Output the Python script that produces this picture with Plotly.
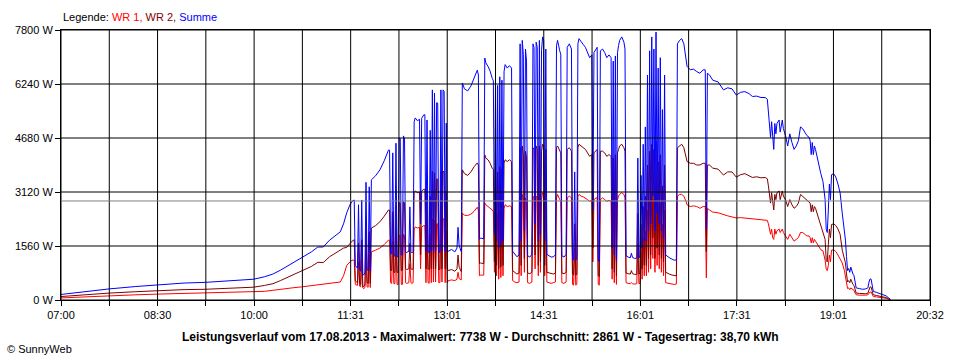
import plotly.graph_objects as go

# ---- data (minutes after 07:00, watts) ----
t_min = [
    0, 20, 45, 70, 90, 115, 135, 160, 180, 190, 198, 205, 210, 216, 225, 234, 240, 245, 251, 256, 261, 264, 267, 270, 272, 274,
    275, 277, 278, 279, 280, 281, 282, 283, 284, 285, 286, 287, 288, 289, 290,
    294, 298, 302, 306, 307,
    308, 309, 310, 311, 312, 313, 314, 315, 316, 317, 318, 319, 320, 321, 322, 323, 324, 325, 326, 327, 328, 329,
    330, 331, 333, 335, 336, 337, 339, 340,
    341, 342, 343, 344, 345, 346, 347, 348, 349, 350, 351, 352, 353, 354, 355, 356, 357, 358, 359, 360, 361,
    362, 365, 368, 370, 371, 372, 374, 375,
    377, 380, 383, 386, 389, 390, 391, 392, 395, 396, 397, 399, 401, 403, 404,
    405, 406, 407, 408, 409, 410, 411, 412, 413, 414, 415, 417, 419, 421,
    422, 424, 426, 428, 429, 430, 431, 432, 433, 434, 435, 436, 438, 440,
    441, 442, 443, 444, 445, 446, 447, 448, 449, 450, 451, 452, 453,
    454, 456, 458, 460, 462, 463, 464, 466, 467, 468, 470, 472, 473, 475, 477,
    478, 479, 480, 481, 482, 483, 484, 486, 488, 490, 492, 494, 496, 497, 498, 500, 501, 502, 503,
    504, 506, 508, 510, 512, 514, 515, 516, 517, 518, 519, 520, 521, 522, 524, 526, 527,
    528, 530, 532, 533, 534, 536, 538, 539, 540, 541, 542, 543, 544, 545, 546, 547,
    548, 549, 550, 551, 552, 553, 554, 555, 556, 557, 558, 559, 560, 561, 562, 563, 564,
    565, 567, 569, 571, 573, 575, 576, 578, 580, 582, 584, 585, 588, 591, 594, 597, 600, 602, 603,
    604, 606, 609, 614, 619, 623, 627, 631, 635, 639, 643, 646, 650, 654, 658, 660,
    661, 662, 663, 664, 665, 666, 667, 668, 669, 671, 672, 674, 675,
    677, 679, 681, 683, 685, 687, 689, 691, 693, 695, 697, 699,
    700, 701, 702, 703, 704, 705, 706, 708, 710, 712, 713, 714, 715, 716, 717, 718, 719, 720,
    722, 724, 726, 728, 730, 732, 733, 734, 735, 736, 737, 738, 739, 740, 741, 742,
    743, 746, 749, 752, 754, 755, 756, 757, 758, 759, 762, 765, 768, 771, 773, 775,
]
wr1 = [
    60, 90, 120, 150, 170, 190, 200, 215, 230, 250, 280, 300, 320, 350, 380, 420, 440, 450, 480, 500, 520, 700, 1000, 1100, 1150, 1150,
    450, 420, 1100, 400, 380, 1150, 350, 330, 360, 1350, 380, 370, 1300, 360, 1390,
    1440, 1500, 1600, 1730, 1730,
    500, 480, 1700, 470, 470, 1800, 450, 450, 1870, 1870, 450, 450, 1900, 1850, 500, 480, 500, 500, 1050, 500, 480, 500,
    2050, 2110, 2080, 2100, 900, 2100, 2150, 2150,
    500, 2050, 500, 480, 1900, 500, 2350, 520, 2300, 520, 2200, 2200, 500, 500, 2350, 520, 2350, 2330, 500, 2000, 500,
    560, 580, 560, 600, 800, 620, 580, 2510,
    2450, 2440, 2480, 2560, 2680, 2600, 700, 720, 720, 2800, 2750, 2700, 2660, 2600, 2550,
    800, 2600, 700, 2500, 600, 2600, 650, 2550, 700, 2650, 2750, 2700, 2720, 2700,
    560, 520, 500, 520, 3000, 700, 3050, 2900, 800, 2950, 2800, 500, 480, 520,
    3000, 2950, 900, 3000, 2950, 700, 3050, 800, 2900, 3100, 3050, 700, 2900,
    520, 500, 480, 500, 520, 2950, 3050, 2900, 2850, 500, 480, 520, 2950, 3000, 2950,
    450, 430, 1500, 430, 450, 3000, 3050, 3000, 2980, 2950, 2900, 2850, 2880, 1100, 2900, 2950, 2950, 450, 430,
    2900, 2950, 2900, 2850, 2880, 2850, 600, 2800, 500, 2850, 450, 2900, 3000, 3050, 3100, 3050, 2950,
    500, 480, 470, 500, 470, 460, 470, 1600, 470, 480, 1400, 600, 1800, 700, 2000, 700,
    2600, 800, 2900, 900, 3100, 1200, 2900, 800, 3150, 1000, 2700, 900, 2800, 800, 2200, 700, 2600,
    500, 480, 470, 460, 450, 460, 3000, 3050, 3050, 3000, 2850, 2750, 2700, 2720, 2700, 2650, 2700, 2700, 640,
    2650, 2600, 2540, 2520, 2460, 2430, 2400, 2370, 2380, 2370, 2360, 2340, 2330, 2320, 2310, 2300,
    2200, 2050, 1900, 2050, 1800, 1750, 2050, 1900, 2000, 2050, 1950, 2050, 1950,
    1850, 1750, 1900, 1800, 1700, 1750, 1800, 1950, 1950, 1900, 1850, 1850,
    1800, 1650, 1800, 1650, 1750, 1700, 1650, 1550, 1450, 1420, 1300, 1150, 900, 850, 1000, 1300, 1100, 1440,
    1450, 1400, 1300, 1200, 1070, 850, 660, 500, 330, 350, 300, 350, 320, 300, 280, 200,
    150, 140, 130, 140, 150, 200, 230, 230, 150, 100, 90, 80, 70, 50, 30, 10,
]
wr2 = [
    100, 150, 200, 240, 270, 300, 310, 345, 370, 420, 470, 560, 630, 720, 860, 970, 1090, 1080, 1250, 1350, 1450, 1500, 1520, 1650, 1700, 1740,
    550, 500, 1650, 480, 450, 1740, 380, 400, 420, 2050, 500, 480, 1970, 480, 2080,
    2150, 2260, 2420, 2600, 2600,
    850, 850, 2550, 800, 800, 2730, 800, 800, 2810, 2800, 850, 850, 2840, 2800, 900, 880, 900, 900, 1640, 900, 880, 900,
    3100, 3150, 3100, 3120, 1300, 3150, 3200, 3200,
    900, 3150, 900, 880, 3000, 900, 3720, 900, 3680, 900, 3500, 3490, 880, 880, 3720, 900, 3720, 3700, 900, 3110, 900,
    850, 880, 830, 900, 1300, 950, 820, 3760,
    3650, 3600, 3700, 3850, 3960, 3900, 1050, 1070, 1050, 4190, 4100, 4050, 3950, 3800, 3780,
    1100, 3800, 1000, 3700, 900, 3850, 950, 3800, 1000, 3950, 4050, 4000, 4050, 4000,
    850, 800, 750, 780, 4400, 1000, 4450, 4200, 1200, 4300, 4100, 780, 760, 800,
    4400, 4350, 1300, 4450, 4350, 1000, 4450, 1100, 4300, 4500, 4450, 1000, 4350,
    800, 780, 760, 750, 780, 4400, 4450, 4300, 4250, 780, 760, 800, 4350, 4400, 4300,
    750, 720, 2200, 720, 740, 4400, 4500, 4450, 4400, 4350, 4250, 4150, 4200, 1500, 4250, 4300, 4350, 700, 680,
    4300, 4300, 4250, 4150, 4200, 4150, 900, 4100, 800, 4200, 700, 4250, 4350, 4450, 4500, 4400, 4300,
    780, 760, 750, 850, 760, 740, 740, 2500, 760, 760, 2200, 900, 2700, 1000, 3000, 1000,
    3900, 1200, 4300, 1300, 4500, 1800, 4350, 1200, 4590, 1500, 4000, 1300, 4200, 1200, 3300, 1100, 3900,
    800, 760, 740, 720, 700, 700, 4400, 4450, 4500, 4400, 4150, 4000, 3950, 3950, 3900, 3900, 3950, 3950, 1400,
    3900, 3900, 3810, 3780, 3610, 3700, 3700, 3550, 3620, 3650, 3600, 3540, 3560, 3530, 3540, 3500,
    3300, 3050, 2800, 3100, 2750, 2600, 3050, 2900, 3100, 3150, 2900, 3150, 3000,
    2900, 2700, 2900, 2750, 2650, 2700, 2800, 3050, 3000, 2950, 2900, 2850,
    2800, 2550, 2750, 2550, 2700, 2650, 2550, 2400, 2200, 2000, 1900, 1750, 1150, 1100, 1600, 2050, 1800, 2180,
    2200, 2150, 2050, 1900, 1440, 1200, 1070, 750, 520, 560, 500, 600, 500, 450, 420, 250,
    200, 190, 180, 180, 200, 320, 380, 370, 230, 150, 130, 110, 100, 70, 40, 10,
]
assert len(t_min) == len(wr1) == len(wr2)
summe = [a + b for a, b in zip(wr1, wr2)]

y_ticks = [0, 1560, 3120, 4680, 6240, 7800]
y_labels = [f"{v} W" for v in y_ticks]
x_labels = ["07:00", "08:30", "10:00", "11:31", "13:01", "14:31", "16:01", "17:31", "19:01", "20:32"]
span_min = 812          # 07:00 .. 20:32
n_div = 18
avg_w = 2861
caption = ("Leistungsverlauf vom 17.08.2013 - Maximalwert: 7738 W - "
           "Durchschnitt: 2861 W - Tagesertrag: 38,70 kWh")

x_tickvals = [i * span_min / n_div for i in range(n_div + 1)]
x_ticktext = [x_labels[i // 2] if i % 2 == 0 else "" for i in range(n_div + 1)]

FONT = "Liberation Sans, Arial, sans-serif"
RED, DARK, BLUE = "#FF0000", "#800000", "#0000FF"

fig = go.Figure()
fig.add_trace(go.Scatter(x=t_min, y=wr1, mode="lines", line=dict(color=RED, width=1), name="WR 1"))
fig.add_trace(go.Scatter(x=t_min, y=wr2, mode="lines", line=dict(color=DARK, width=1), name="WR 2"))
fig.add_trace(go.Scatter(x=t_min, y=summe, mode="lines", line=dict(color=BLUE, width=1), name="Summe"))

shapes = []
for xv in x_tickvals:
    shapes.append(dict(type="line", xref="x", yref="y", x0=xv, x1=xv, y0=0, y1=y_ticks[-1],
                       line=dict(color="black", width=1), layer="above"))
for yv in y_ticks:
    shapes.append(dict(type="line", xref="x", yref="y", x0=0, x1=span_min, y0=yv, y1=yv,
                       line=dict(color="black", width=1), layer="above"))
shapes.append(dict(type="line", xref="x", yref="y", x0=0, x1=span_min, y0=avg_w, y1=avg_w,
                   line=dict(color="#808080", width=1), layer="above"))

axis_common = dict(showgrid=False, zeroline=False, showline=True, linecolor="black", linewidth=1,
                   mirror=True, ticks="outside", ticklen=5, tickcolor="black", tickwidth=1,
                   automargin=False,
                   tickfont=dict(family=FONT, size=11, color="black"))

fig.update_layout(
    width=960, height=360,
    margin=dict(l=61, r=30, t=30, b=60, pad=0),
    paper_bgcolor="white", plot_bgcolor="white",
    showlegend=False,
    shapes=shapes,
    xaxis=dict(range=[0, span_min], tickmode="array", tickvals=x_tickvals, ticktext=x_ticktext, **axis_common),
    yaxis=dict(range=[0, y_ticks[-1]], tickmode="array", tickvals=y_ticks, ticktext=y_labels, **axis_common),
    annotations=[
        dict(xref="paper", yref="paper", x=0, y=(300 - 17) / 270, xanchor="left", yanchor="middle",
             showarrow=False, font=dict(family=FONT, size=11, color="black"),
             text=(f"Legende: <span style='color:{RED}'>WR 1,</span> "
                   f"<span style='color:{DARK}'>WR 2,</span> "
                   f"<span style='color:{BLUE}'>Summe</span>")),
        dict(xref="paper", yref="paper", x=(480 - 61) / 869, y=(300 - 337) / 270, xanchor="center",
             yanchor="middle", showarrow=False, font=dict(family=FONT, size=12, color="black"),
             text=f"<b>{caption}</b>"),
        dict(xref="paper", yref="paper", x=(5 - 61) / 869, y=(300 - 349) / 270, xanchor="left",
             yanchor="middle", showarrow=False, font=dict(family=FONT, size=11, color="black"),
             text="© SunnyWeb"),
    ],
)

fig.write_html("out.html", config={"displayModeBar": False},
               post_script="document.body.style.margin='0';document.body.style.overflow='hidden';")
